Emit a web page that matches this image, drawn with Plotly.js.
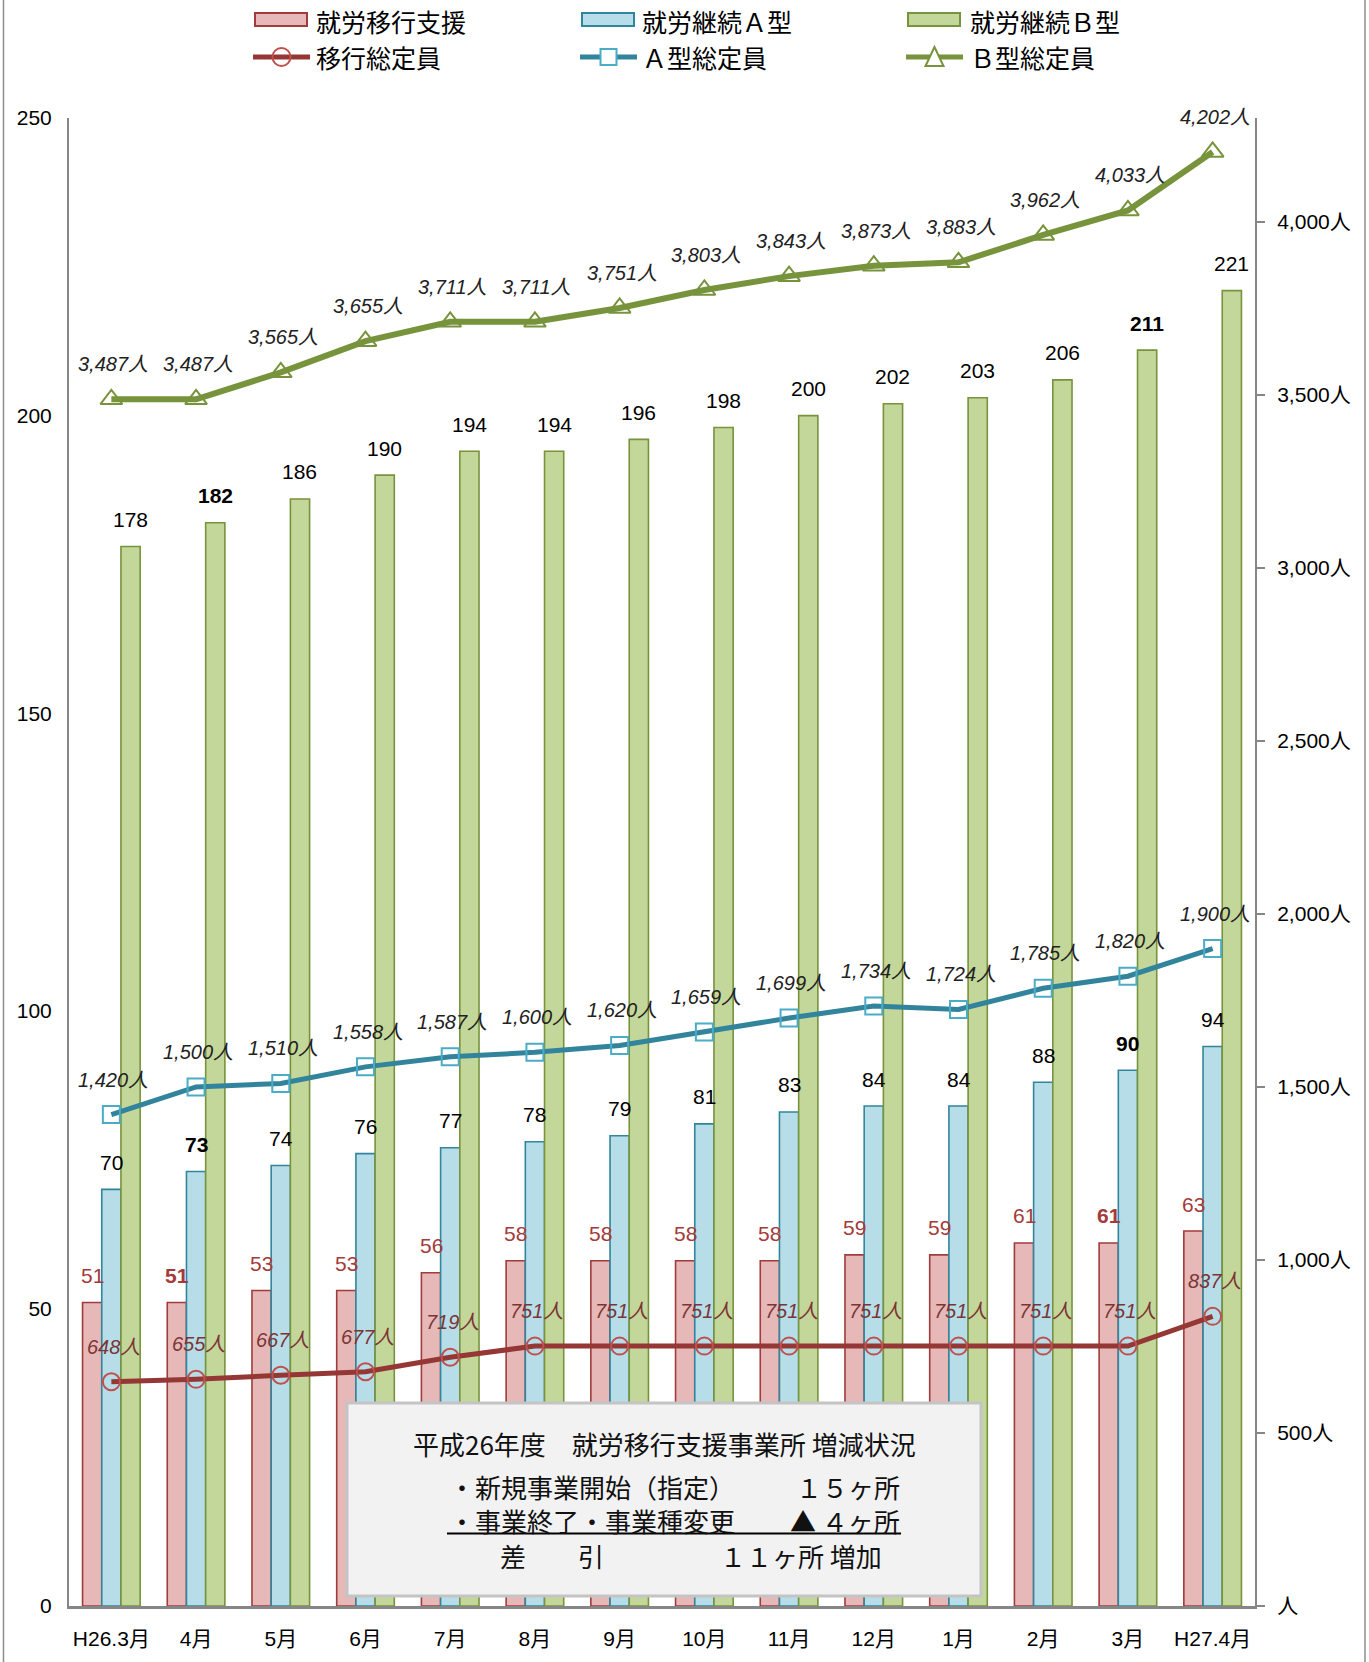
<!DOCTYPE html>
<html>
<head>
<meta charset="utf-8">
<script src="https://cdn.plot.ly/plotly-3.0.1.min.js"></script>
<style>
  html, body { margin: 0; padding: 0; background: #fff; }
  #chart { width: 1369px; height: 1662px; }
</style>
</head>
<body>
<div id="chart"></div>
<script>
// ---------- data ----------
const categories = ['H26.3月','4月','5月','6月','7月','8月','9月','10月','11月','12月','1月','2月','3月','H27.4月'];
const ikouShien   = [51, 51, 53, 53, 56, 58, 58, 58, 58, 59, 59, 61, 61, 63];
const keizokuA    = [70, 73, 74, 76, 77, 78, 79, 81, 83, 84, 84, 88, 90, 94];
const keizokuB    = [178, 182, 186, 190, 194, 194, 196, 198, 200, 202, 203, 206, 211, 221];
const ikouTeiin   = [648, 655, 667, 677, 719, 751, 751, 751, 751, 751, 751, 751, 751, 837];
const aTeiin      = [1420, 1500, 1510, 1558, 1587, 1600, 1620, 1659, 1699, 1734, 1724, 1785, 1820, 1900];
const bTeiin      = [3487, 3487, 3565, 3655, 3711, 3711, 3751, 3803, 3843, 3873, 3883, 3962, 4033, 4202];
const boldIdx     = [1, 12];
const barNames    = ['就労移行支援', '就労継続Ａ型', '就労継続Ｂ型'];
const lineNames   = ['移行総定員', 'Ａ型総定員', 'Ｂ型総定員'];
const leftTicks   = [0, 50, 100, 150, 200, 250];
const rightTicks  = [0, 500, 1000, 1500, 2000, 2500, 3000, 3500, 4000];
const rightTickText = ['人', '500人', '1,000人', '1,500人', '2,000人', '2,500人', '3,000人', '3,500人', '4,000人'];
const boxTitle = '平成26年度　就労移行支援事業所 増減状況';
const boxRows = [
  ['・新規事業開始（指定）', '１５ヶ所'],
  ['・事業終了・事業種変更', '▲ ４ヶ所'],
  ['差　　引', '１１ヶ所 増加']
];

// ---------- styling ----------
const W = 1369, H = 1662;
const L = 69, R = 1255, T = 118, B = 1606;
const bargap = 0.32;
const numFont = 'Liberation Sans, Arial, Noto Sans CJK JP, sans-serif';
const cjkFont = 'Noto Sans CJK JP, sans-serif';
const barFill = ['#E6B9B8', '#B7DEE8', '#C4D79B'];
const barLine = ['#A23B3B', '#31859C', '#77933C'];
const lineCol = ['#953735', '#31849B', '#77933C'];
const markCol = ['#C0504D', '#4BACC6', '#77933C'];
const symbols = ['circle-open', 'square-open', 'triangle-up-open'];

const px = v => (v - L) / (R - L);
const py = v => (B - v) / (B - T);

const barSeries = [ikouShien, keizokuA, keizokuB];
const lineSeries = [ikouTeiin, aTeiin, bTeiin];

const traces = [];
barSeries.forEach((vals, s) => {
  traces.push({
    type: 'bar', name: barNames[s], x: categories, y: vals,
    marker: { color: barFill[s], line: { color: barLine[s], width: 1.6 } },
    hoverinfo: 'x+y'
  });
});
lineSeries.forEach((vals, s) => {
  traces.push({
    type: 'scatter', mode: 'lines+markers', name: lineNames[s], x: categories, y: vals, yaxis: 'y2',
    line: { color: lineCol[s], width: s === 2 ? 6 : 5 },
    marker: { symbol: symbols[s], size: s === 2 ? 19 : 17, color: markCol[s], line: { color: markCol[s], width: 2 } },
    cliponaxis: false
  });
});

const annotations = [];
const catW = (R - L) / categories.length;
const barW = catW * (1 - bargap) / 3;
const barLabelColor = ['#A33B3B', '#000000', '#000000'];
barSeries.forEach((vals, s) => {
  vals.forEach((v, i) => {
    const t = boldIdx.includes(i) ? '<b>' + v + '</b>' : String(v);
    annotations.push({
      x: categories[i], y: v, xref: 'x', yref: 'y', xshift: (s - 1) * barW, yshift: 27,
      text: t, showarrow: false, xanchor: 'center', yanchor: 'middle',
      font: { family: numFont, size: 21, color: barLabelColor[s] }
    });
  });
});
const lineLabelColor = ['#7B3535', '#222222', '#222222'];
lineSeries.forEach((vals, s) => {
  vals.forEach((v, i) => {
    annotations.push({
      x: categories[i], y: v, xref: 'x', yref: 'y2', xshift: 2, yshift: 35,
      text: '<i>' + v.toLocaleString('en-US') + '人</i>', showarrow: false,
      xanchor: 'center', yanchor: 'middle',
      font: { family: numFont, size: 20, color: lineLabelColor[s] }
    });
  });
});

// custom legend
const shapes = [];
const legX = [255, 582, 908];
const legTextX = [314, 640, 968];
barNames.forEach((n, s) => {
  shapes.push({ type: 'rect', xref: 'paper', yref: 'paper', x0: px(legX[s]), x1: px(legX[s] + 52), y0: py(13), y1: py(26),
    fillcolor: barFill[s], line: { color: barLine[s], width: 2 } });
  annotations.push({ xref: 'paper', yref: 'paper', x: px(legTextX[s]), y: py(21), xanchor: 'left', yanchor: 'middle',
    text: n, showarrow: false, font: { family: cjkFont, size: 25, color: '#000' } });
});
lineNames.forEach((n, s) => {
  const x0 = legX[s] - 2, x1 = legX[s] + 55, cx = (x0 + x1) / 2, cy = 57;
  shapes.push({ type: 'line', xref: 'paper', yref: 'paper', x0: px(x0), x1: px(x1), y0: py(cy), y1: py(cy),
    line: { color: lineCol[s], width: 5 } });
  if (s === 0) {
    shapes.push({ type: 'circle', xref: 'paper', yref: 'paper', x0: px(cx - 9), x1: px(cx + 9), y0: py(cy - 9), y1: py(cy + 9),
      line: { color: markCol[s], width: 2 } });
  } else if (s === 1) {
    shapes.push({ type: 'rect', xref: 'paper', yref: 'paper', x0: px(cx - 8), x1: px(cx + 8), y0: py(cy - 8), y1: py(cy + 8),
      fillcolor: '#ffffff', line: { color: markCol[s], width: 2 } });
  } else {
    const p = 'M' + px(cx) + ',' + py(cy - 10) + ' L' + px(cx - 9) + ',' + py(cy + 9) + ' L' + px(cx + 9) + ',' + py(cy + 9) + ' Z';
    shapes.push({ type: 'path', xref: 'paper', yref: 'paper', path: p, fillcolor: '#ffffff', line: { color: markCol[s], width: 2 } });
  }
  annotations.push({ xref: 'paper', yref: 'paper', x: px(legTextX[s]), y: py(57), xanchor: 'left', yanchor: 'middle',
    text: n, showarrow: false, font: { family: cjkFont, size: 25, color: '#000' } });
});

// outer frame lines
shapes.push({ type: 'line', xref: 'paper', yref: 'paper', x0: px(3.5), x1: px(3.5), y0: py(0), y1: py(H), line: { color: '#8C8C8C', width: 1.5 } });
shapes.push({ type: 'line', xref: 'paper', yref: 'paper', x0: px(1365), x1: px(1365), y0: py(0), y1: py(H), line: { color: '#8C8C8C', width: 1.5 } });

// info box
shapes.push({ type: 'rect', xref: 'paper', yref: 'paper', x0: px(347), x1: px(981), y0: py(1403), y1: py(1596),
  fillcolor: '#F2F2F2', line: { color: '#C4C4C4', width: 3 }, layer: 'above' });
shapes.push({ type: 'line', xref: 'paper', yref: 'paper', x0: px(447), x1: px(901), y0: py(1533.5), y1: py(1533.5),
  line: { color: '#000', width: 2 }, layer: 'above' });
const boxFont = { family: cjkFont, size: 26, color: '#111' };
annotations.push({ xref: 'paper', yref: 'paper', x: px(664), y: py(1443), xanchor: 'center', yanchor: 'middle',
  text: boxTitle, showarrow: false, font: boxFont });
const rowY = [1486, 1520, 1555];
const rowLeft = [447, 447, 498];
const rowRight = [902, 902, 884];
boxRows.forEach((r, k) => {
  annotations.push({ xref: 'paper', yref: 'paper', x: px(rowLeft[k]), y: py(rowY[k]), xanchor: 'left', yanchor: 'middle',
    text: r[0], showarrow: false, font: boxFont });
  annotations.push({ xref: 'paper', yref: 'paper', x: px(rowRight[k]), y: py(rowY[k]), xanchor: 'right', yanchor: 'middle',
    text: r[1], showarrow: false, font: boxFont });
});

const layout = {
  width: W, height: H,
  margin: { l: L, r: W - R, t: T, b: H - B, pad: 0 },
  paper_bgcolor: '#fff', plot_bgcolor: '#fff',
  showlegend: false,
  barmode: 'group', bargap: bargap, bargroupgap: 0,
  font: { family: numFont, size: 20, color: '#000' },
  xaxis: {
    type: 'category', range: [-0.5, categories.length - 0.5], showline: true, linecolor: '#868686', linewidth: 3, ticks: '', showgrid: false,
    tickfont: { family: numFont, size: 21, color: '#000' }, ticklabelstandoff: 12, fixedrange: true
  },
  yaxis: {
    range: [0, 250], tickvals: leftTicks, showline: true, linecolor: '#868686', linewidth: 2, ticks: '',
    showgrid: false, zeroline: false, tickfont: { family: numFont, size: 21, color: '#000' }, ticklabelstandoff: 11
  },
  yaxis2: {
    overlaying: 'y', side: 'right', range: [0, 4300], tickvals: rightTicks, ticktext: rightTickText,
    showline: true, linecolor: '#868686', linewidth: 2, ticks: 'outside', ticklen: 8, tickcolor: '#868686', tickwidth: 2,
    showgrid: false, zeroline: false, tickfont: { family: numFont, size: 21, color: '#000' }, ticklabelstandoff: 8
  },
  shapes: shapes,
  annotations: annotations
};

Plotly.newPlot('chart', traces, layout, { displayModeBar: false, staticPlot: true });
</script>
</body>
</html>
